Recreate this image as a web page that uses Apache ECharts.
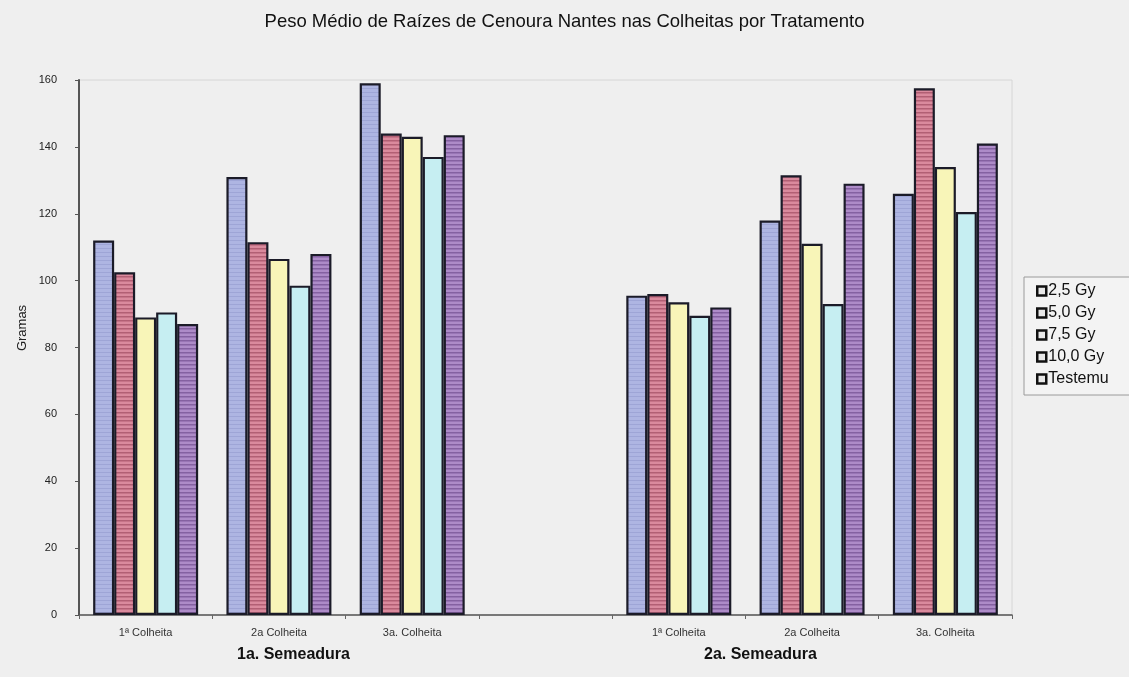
<!DOCTYPE html>
<html>
<head>
<meta charset="utf-8">
<script src="https://cdn.jsdelivr.net/npm/echarts@6/dist/echarts.min.js"></script>
<style>
  html, body { margin: 0; padding: 0; background: #efefef; }
  #chart { width: 1129px; height: 677px; }
</style>
</head>
<body>
<div id="chart"></div>
<script>
// Harvests (Colheitas) for the two sowings; the empty slot separates the sowings
const categories = ['1ª Colheita', '2a Colheita', '3a. Colheita', '', '1ª Colheita', '2a Colheita', '3a. Colheita'];
const sowingLabels = ['1a. Semeadura', '2a. Semeadura'];
const seriesNames = ['2,5 Gy', '5,0 Gy', '7,5 Gy', '10,0 Gy', 'Testemunha'];

// Mean root weight (grams) per treatment
const gy25 = [112, 131, 159, null, 95.5, 118, 126];
const gy50 = [102.5, 111.5, 144, null, 96, 131.5, 157.5];
const gy75 = [89, 106.5, 143, null, 93.5, 111, 134];
const gy100 = [90.5, 98.5, 137, null, 89.5, 93, 120.5];
const testemunha = [87, 108, 143.5, null, 92, 129, 141];

const yTicks = { min: 0, max: 160, interval: 20 };

const FONT = 'Liberation Sans, Arial, sans-serif';

// striped fills for the bars
function stripes(base, line, step, lineW) {
  const c = document.createElement('canvas');
  c.width = 8; c.height = step;
  const g = c.getContext('2d');
  g.fillStyle = base; g.fillRect(0, 0, 8, step);
  g.fillStyle = line; g.fillRect(0, 0, 8, lineW);
  return { image: c, repeat: 'repeat' };
}

const fills = [
  stripes('#aeb5e2', '#9ea5d6', 4, 1),
  stripes('#da8a9d', '#b25f74', 4, 1.5),
  '#f8f5b8',
  '#c6eef2',
  stripes('#ad8bc8', '#8461a1', 4, 1.5)
];
const values = [gy25, gy50, gy75, gy100, testemunha];

const chart = echarts.init(document.getElementById('chart'), null, { renderer: 'canvas' });

chart.setOption({
  backgroundColor: '#efefef',
  animation: false,
  textStyle: { fontFamily: FONT },
  title: {
    text: 'Peso Médio de Raízes de Cenoura Nantes nas Colheitas por Tratamento',
    left: 'center',
    top: 7,
    textStyle: { fontSize: 18.5, fontWeight: 'normal', color: '#111' }
  },
  grid: {
    left: 79, right: 117, top: 80, bottom: 62,
    show: true, borderColor: '#d6d6d6', borderWidth: 1, backgroundColor: 'transparent'
  },
  legend: {
    orient: 'vertical',
    left: 1024, top: 277,
    itemWidth: 9, itemHeight: 9,
    itemGap: 6,
    padding: [6, 30, 8, 12],
    borderColor: '#9a9a9a', borderWidth: 1,
    backgroundColor: '#f3f3f3',
    icon: 'rect',
    itemStyle: { color: '#e8e8e8', borderColor: '#111', borderWidth: 2.5 },
    textStyle: { fontSize: 16, color: '#111', padding: [0, 0, 0, -3] },
    formatter: name => name.slice(0, 7),
    data: seriesNames
  },
  xAxis: {
    type: 'category',
    data: categories,
    axisLine: { lineStyle: { color: '#555', width: 1.5 } },
    axisTick: { show: true, length: 4, lineStyle: { color: '#666' } },
    axisLabel: { fontSize: 11, color: '#333', margin: 12 }
  },
  yAxis: {
    type: 'value',
    min: yTicks.min, max: yTicks.max, interval: yTicks.interval,
    axisLine: { show: true, lineStyle: { color: '#555', width: 2 } },
    axisTick: { show: true, length: 4, lineStyle: { color: '#555' } },
    axisLabel: { fontSize: 11, color: '#222', margin: 22 },
    splitLine: { show: false }
  },
  graphic: [
    { type: 'text', x: 22, y: 328, rotation: Math.PI / 2, style: { text: 'Gramas', fontSize: 13, fill: '#222', fontFamily: FONT, align: 'center', verticalAlign: 'middle' } },
    { type: 'text', left: 237, top: 647, style: { text: sowingLabels[0], fontSize: 16, fontWeight: 'bold', fill: '#111', fontFamily: FONT } },
    { type: 'text', left: 704, top: 647, style: { text: sowingLabels[1], fontSize: 16, fontWeight: 'bold', fill: '#111', fontFamily: FONT } }
  ],
  series: values.map((v, i) => ({
    name: seriesNames[i],
    type: 'bar',
    data: v,
    barWidth: 21,
    barGap: '0%',
    itemStyle: { color: fills[i], borderColor: '#1b1b28', borderWidth: 2.2 }
  }))
});
</script>
</body>
</html>
